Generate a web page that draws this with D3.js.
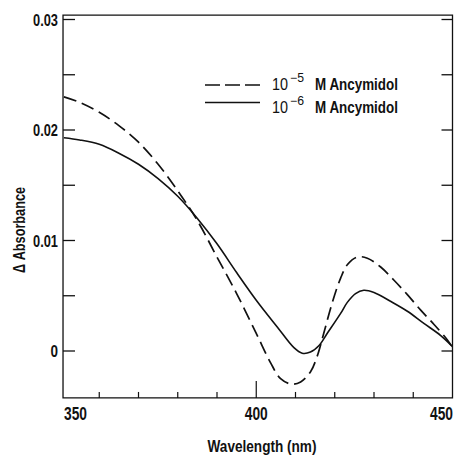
<!DOCTYPE html>
<html><head><meta charset="utf-8">
<script src="https://cdn.jsdelivr.net/npm/d3@7"></script>
<style>
body{margin:0;background:#fff}
text{font-family:"Liberation Sans",Arial,sans-serif;fill:#111}
</style></head><body>
<script>
const wavelengths5 = [351, 355, 360, 365, 370, 375, 380, 385, 390, 395, 400, 403.7, 406.2, 409, 411.3, 413.8, 415.5, 417.2, 419.3, 421.5, 423.2, 425.7, 428.3, 431.7, 435.1, 438.5, 441.9, 445.3, 448.7, 450];
const ancymidol5 = [0.0230, 0.0225, 0.0216, 0.0204, 0.0189, 0.0169, 0.0145, 0.0118, 0.0085, 0.0052, 0.0016, -0.0011, -0.0025, -0.0030, -0.0028, -0.0019, -0.0005, 0.0016, 0.0043, 0.0066, 0.0078, 0.0085, 0.0084, 0.0076, 0.0064, 0.0051, 0.0037, 0.0024, 0.0010, 0.0003];
const wavelengths6 = [351, 355, 360, 365, 370, 375, 380, 385, 390, 395, 400, 405.3, 409.6, 411.7, 413.8, 416, 418.1, 421.5, 423.2, 425.3, 427.4, 430, 434.2, 438.5, 442.7, 447, 450];
const ancymidol6 = [0.0193, 0.0191, 0.0187, 0.0179, 0.0169, 0.0156, 0.0140, 0.0120, 0.0097, 0.0071, 0.0046, 0.0022, 0.0003, -0.0002, -0.0001, 0.0005, 0.0016, 0.0034, 0.0044, 0.0052, 0.0055, 0.0053, 0.0045, 0.0036, 0.0025, 0.0014, 0.0004];
const xTickLabels = [350, 400, 450];
const xMinorTicks = [360, 370, 380, 390, 410, 420, 430, 440];
const yTickLabels = ["0", "0.01", "0.02", "0.03"];
const yTicks = [0, 0.005, 0.01, 0.015, 0.02, 0.025, 0.03];
const legendLabels = [{exp: "\u22125", dash: true}, {exp: "\u22126", dash: false}];

const W = 455, H = 455;
const svg = d3.select("body").append("svg").attr("width", W).attr("height", H);
const x = d3.scaleLinear().domain([350, 450]).range([60, 452.5]);
const y = d3.scaleLinear().domain([0, 0.03]).range([351, 19.5]);
const xL = 350.77, xR = 450, yB = -0.00425, yT = 0.0304;

const g = svg.append("g");
// condensed text: natural glyphs scaled horizontally to the wanted width
function label(sel, str, px, py, size, w, anchor, weight) {
  const holder = sel.append("g");
  const t = holder.append("text").attr("font-size", size)
    .attr("text-anchor", anchor || "start").attr("font-weight", weight || "normal").text(str);
  const natural = t.node().getComputedTextLength();
  holder.attr("transform", `translate(${px},${py}) scale(${w / natural},1)`);
  return holder;
}

g.append("path")
  .attr("d", `M${x(xL)},${y(yT)}H${x(xR)}V${y(yB)}H${x(xL)}Z`)
  .attr("fill", "none").attr("stroke", "#111").attr("stroke-width", 1.3);

yTicks.forEach(v => {
  g.append("line").attr("x1", x(xL)).attr("x2", x(xL) + 12).attr("y1", y(v)).attr("y2", y(v))
    .attr("stroke", "#111").attr("stroke-width", 1.3);
  g.append("line").attr("x1", x(xR)).attr("x2", x(xR) - 11).attr("y1", y(v)).attr("y2", y(v))
    .attr("stroke", "#111").attr("stroke-width", 1.3);
});
yTickLabels.forEach(t => {
  label(g, t, 58, y(+t) + 6, 16.5, t.length === 1 ? 7.5 : 25, "end", "bold");
});
xMinorTicks.forEach(v => {
  g.append("line").attr("x1", x(v)).attr("x2", x(v)).attr("y1", y(yB)).attr("y2", y(yB) - 6)
    .attr("stroke", "#111").attr("stroke-width", 1.2);
});
g.append("line").attr("x1", x(400)).attr("x2", x(400)).attr("y1", y(yB)).attr("y2", y(yB) - 17)
  .attr("stroke", "#111").attr("stroke-width", 1.2);
const xLabelPos = {350: [64, "start"], 400: [x(400), "middle"], 450: [453, "end"]};
xTickLabels.forEach(v => {
  label(g, String(v), xLabelPos[v][0], 419.5, 17.5, 23, xLabelPos[v][1], "bold");
});
label(g, "Wavelength (nm)", 262, 452, 16.5, 109, "middle", "bold");
const yTitle = g.append("g").attr("transform", "translate(25,230) rotate(-90)");
label(yTitle, "\u0394 Absorbance", 0, 0, 17, 86, "middle", "bold");

const line = d3.line().x(d => x(d[0])).y(d => y(d[1])).curve(d3.curveCatmullRom.alpha(0.5));
g.append("path").datum(wavelengths5.map((w, i) => [w, ancymidol5[i]]))
  .attr("d", line).attr("fill", "none").attr("stroke", "#111").attr("stroke-width", 1.7)
  .attr("stroke-dasharray", "13,6");
g.append("path").datum(wavelengths6.map((w, i) => [w, ancymidol6[i]]))
  .attr("d", line).attr("fill", "none").attr("stroke", "#111").attr("stroke-width", 1.6);

const legendLineY = [85, 102.5], legendTextY = [89.5, 112.5];
legendLabels.forEach((d, i) => {
  g.append("line").attr("x1", 205).attr("x2", 260).attr("y1", legendLineY[i]).attr("y2", legendLineY[i])
    .attr("stroke", "#111").attr("stroke-width", 1.7)
    .attr("stroke-dasharray", d.dash ? "15,5" : null);
  label(g, "10", 272, legendTextY[i], 16, 16, "start");
  label(g, d.exp, 290, legendTextY[i] - 8, 12, 14, "start");
  label(g, "M Ancymidol", 315, legendTextY[i], 16, 83, "start", "bold");
});
</script>
</body></html>
